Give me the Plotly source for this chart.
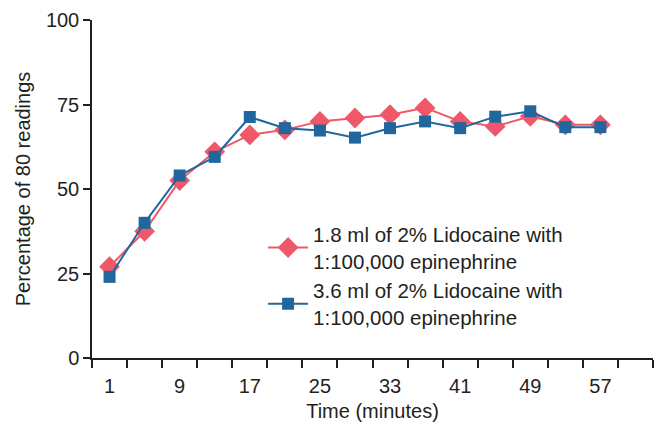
import plotly.graph_objects as go

minutes = [1, 5, 9, 13, 17, 21, 25, 29, 33, 37, 41, 45, 49, 53, 57]
low_dose = [27, 37.5, 52.5, 61, 66, 67.5, 70, 71, 72, 74, 70, 68.5, 71.5, 69, 69]
high_dose = [24, 40, 54, 59.5, 71.3, 68, 67.3, 65.2, 68, 70, 68, 71.4, 73, 68.3, 68.3]
low_name = "1.8 ml of 2% Lidocaine with<br>1:100,000 epinephrine"
high_name = "3.6 ml of 2% Lidocaine with<br>1:100,000 epinephrine"
x_labels = [1, 9, 17, 25, 33, 41, 49, 57]
y_labels = [0, 25, 50, 75, 100]

RED = "#EE5868"
BLUE = "#21679E"
INK = "#231F20"
FONT = "Liberation Sans, Arial, sans-serif"

fig = go.Figure()
fig.add_trace(go.Scatter(
    x=minutes, y=low_dose, name=low_name, mode="lines+markers",
    line=dict(color=RED, width=2),
    marker=dict(symbol="diamond", size=16, color=RED),
))
fig.add_trace(go.Scatter(
    x=minutes, y=high_dose, name=high_name, mode="lines+markers",
    line=dict(color=BLUE, width=2),
    marker=dict(symbol="square", size=12, color=BLUE),
))

fig.update_layout(
    width=659, height=427,
    margin=dict(l=92, r=6, t=20, b=69),
    plot_bgcolor="white", paper_bgcolor="white",
    font=dict(family=FONT, size=20, color=INK),
    showlegend=True,
    legend=dict(
        x=0.305, y=0.425, xanchor="left", yanchor="top",
        bgcolor="rgba(0,0,0,0)", font=dict(size=20.5, color=INK),
        traceorder="normal", itemwidth=40,
    ),
    xaxis=dict(
        range=[-1, 63], tickmode="array", tickvals=x_labels,
        ticks="outside", ticklen=9, tickcolor="rgba(0,0,0,0)",
        showline=True, linecolor=INK, linewidth=1.5,
        showgrid=False, zeroline=False,
        minor=dict(tickmode="linear", tick0=-1, dtick=4, ticks="outside",
                   ticklen=8, tickwidth=1.5, tickcolor=INK, showgrid=False),
        title=dict(text="Time (minutes)", font=dict(size=20), standoff=8),
    ),
    yaxis=dict(
        range=[0, 100], tickmode="array", tickvals=y_labels,
        ticks="outside", ticklen=7, tickwidth=1.5, tickcolor=INK,
        showline=True, linecolor=INK, linewidth=1.5,
        showgrid=False, zeroline=False,
        title=dict(text="Percentage of 80 readings", font=dict(size=20), standoff=10),
    ),
)

fig.write_html("out.html")
